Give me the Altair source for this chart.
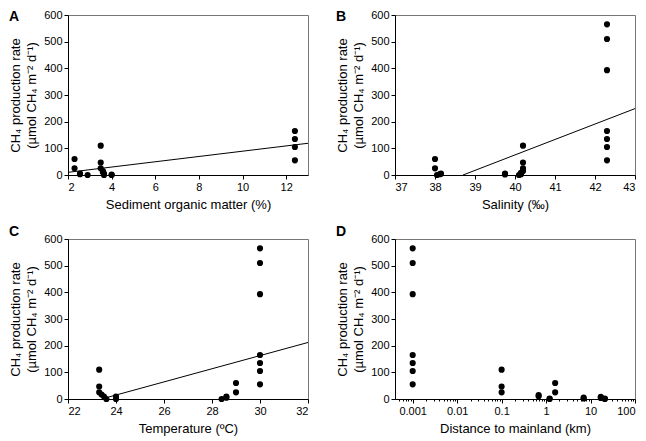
import altair as alt
import pandas as pd

# ---------------- data ----------------
# Panel A: sediment organic matter (%)
som_x = [2.3, 2.3, 2.55, 2.55, 2.9, 3.5, 3.5, 3.5, 3.6, 3.6, 3.65, 3.65, 4.0, 4.0,
         12.4, 12.4, 12.4, 12.4]
som_y = [60, 25, 5, 3, 0, 110, 47, 25, 15, 10, 5, 0, 2, 0,
         165, 135, 105, 55]
som_fit_x = [2, 13]
som_fit_y = [10, 119]

# Panel B: salinity (permil)
sal_x = [38.0, 38.0, 38.05, 38.12, 38.15, 39.75, 39.75, 40.1, 40.15, 40.15,
         40.2, 40.2, 40.2, 40.2, 42.3, 42.3, 42.3, 42.3, 42.3, 42.3, 42.3]
sal_y = [60, 25, 0, 3, 5, 5, 2, 0, 3, 8,
         110, 47, 25, 15, 565, 510, 393, 165, 135, 105, 55]
sal_fit_x = [38.7, 43]
sal_fit_y = [0, 249]

# Panel C: temperature (degC)
temp_x = [23.3, 23.3, 23.3, 23.4, 23.5, 23.6, 24.0, 24.0, 28.4, 28.6, 28.6,
          29.0, 29.0, 30.0, 30.0, 30.0, 30.0, 30.0, 30.0, 30.0]
temp_y = [110, 47, 25, 17, 9, 0, 9, 0, 0, 5, 9,
          60, 25, 565, 510, 393, 165, 135, 105, 55]
temp_fit_x = [23.6, 32]
temp_fit_y = [5, 212]

# Panel D: distance to mainland (km)
dist_x = [0.001, 0.001, 0.001, 0.001, 0.001, 0.001, 0.001,
          0.1, 0.1, 0.1, 0.68, 0.68, 1.2, 1.2, 1.6, 1.6, 7, 7, 17, 17, 21, 21]
dist_y = [565, 510, 393, 165, 135, 105, 55,
          110, 47, 25, 15, 10, 0, 2, 60, 25, 5, 2, 8, 4, 2, 0]
dist_major = [0.001, 0.01, 0.1, 1, 10, 100]
dist_minor = [m * d for d in [0.0001, 0.001, 0.01, 0.1, 1, 10] for m in range(2, 10)
              if 0.0004 < m * d < 100]

y_ticks = [0, 100, 200, 300, 400, 500, 600]
Y_TITLE = ["CH₄ production rate", "(µmol CH₄ m⁻² d⁻¹)"]

FONT = "Liberation Sans"
W, H = 240, 160
LBL_X = -59


def y_enc():
    return alt.Y("y:Q", scale=alt.Scale(domain=[0, 600], nice=False),
                 axis=alt.Axis(values=y_ticks, tickCount=len(y_ticks), title=Y_TITLE))


def label_layer(text, dy):
    return alt.Chart(pd.DataFrame({"t": [text]})).mark_text(
        align="left", baseline="top", fontSize=14, fontWeight="bold",
        font=FONT, color="black"
    ).encode(x=alt.value(LBL_X), y=alt.value(dy), text="t:N")


def linear_panel(xs, ys, fx, fy, domain, ticks, xtitle, label, dy):
    df = pd.DataFrame({"x": xs, "y": ys})
    fit = pd.DataFrame({"x": fx, "y": fy})
    xscale = alt.Scale(domain=domain, nice=False, zero=False)
    pts = alt.Chart(df).mark_circle(size=38, color="black", opacity=1).encode(
        x=alt.X("x:Q", scale=xscale,
                axis=alt.Axis(values=ticks, tickCount=len(ticks), title=xtitle)),
        y=y_enc(),
    )
    line = alt.Chart(fit).mark_line(color="black", strokeWidth=1, clip=True).encode(
        x=alt.X("x:Q", scale=xscale), y=alt.Y("y:Q")
    )
    return alt.layer(line, pts, label_layer(label, dy)).properties(width=W, height=H)


panel_a = linear_panel(som_x, som_y, som_fit_x, som_fit_y, [2, 13],
                       [2, 4, 6, 8, 10, 12], "Sediment organic matter (%)", "A", -5)
panel_b = linear_panel(sal_x, sal_y, sal_fit_x, sal_fit_y, [37, 43],
                       [37, 38, 39, 40, 41, 42, 43], "Salinity (‰)", "B", -5)
panel_c = linear_panel(temp_x, temp_y, temp_fit_x, temp_fit_y, [22, 32],
                       [22, 24, 26, 28, 30, 32], "Temperature (ºC)", "C", -14)

# Panel D with log axis and minor ticks
ddf = pd.DataFrame({"x": dist_x, "y": dist_y})
dscale = alt.Scale(type="log", domain=[0.0004, 100], nice=False)
d_pts = alt.Chart(ddf).mark_circle(size=38, color="black", opacity=1).encode(
    x=alt.X("x:Q", scale=dscale,
            axis=alt.Axis(values=dist_major, tickCount=len(dist_major),
                          title="Distance to mainland (km)",
                          labelExpr="format(datum.value, '~g')", orient="bottom")),
    y=y_enc(),
)
d_minor = alt.Chart(ddf).mark_circle(size=1, opacity=0).encode(
    x=alt.X("x:Q", scale=dscale,
            axis=alt.Axis(values=dist_minor, tickCount=len(dist_minor), tickSize=2,
                          labels=False, domain=False, title=None, orient="bottom")),
    y=alt.Y("y:Q"),
)
panel_d = alt.layer(d_pts, d_minor, label_layer("D", -14)).resolve_axis(
    x="independent").properties(width=W, height=H)

row1 = alt.hconcat(panel_a, panel_b, spacing=26)
row2 = alt.hconcat(panel_c, panel_d, spacing=26)

chart = alt.vconcat(row1, row2, spacing=12).properties(
    padding={"left": 0, "top": 0, "right": 0, "bottom": 0}
).configure_axis(
    labelFont=FONT, labelFontSize=11, labelColor="black", labelOverlap=False,
    titleFont=FONT, titleFontSize=13, titleFontWeight="normal", titleColor="black",
    domainColor="black", tickColor="black", tickSize=4, grid=False,
    labelPadding=2, titlePadding=6,
).configure_axisY(
    titlePadding=5, titleLineHeight=16,
).configure_view(stroke="#777777", strokeWidth=1)

chart.save("out.html", embed_options={"renderer": "svg", "actions": False})
